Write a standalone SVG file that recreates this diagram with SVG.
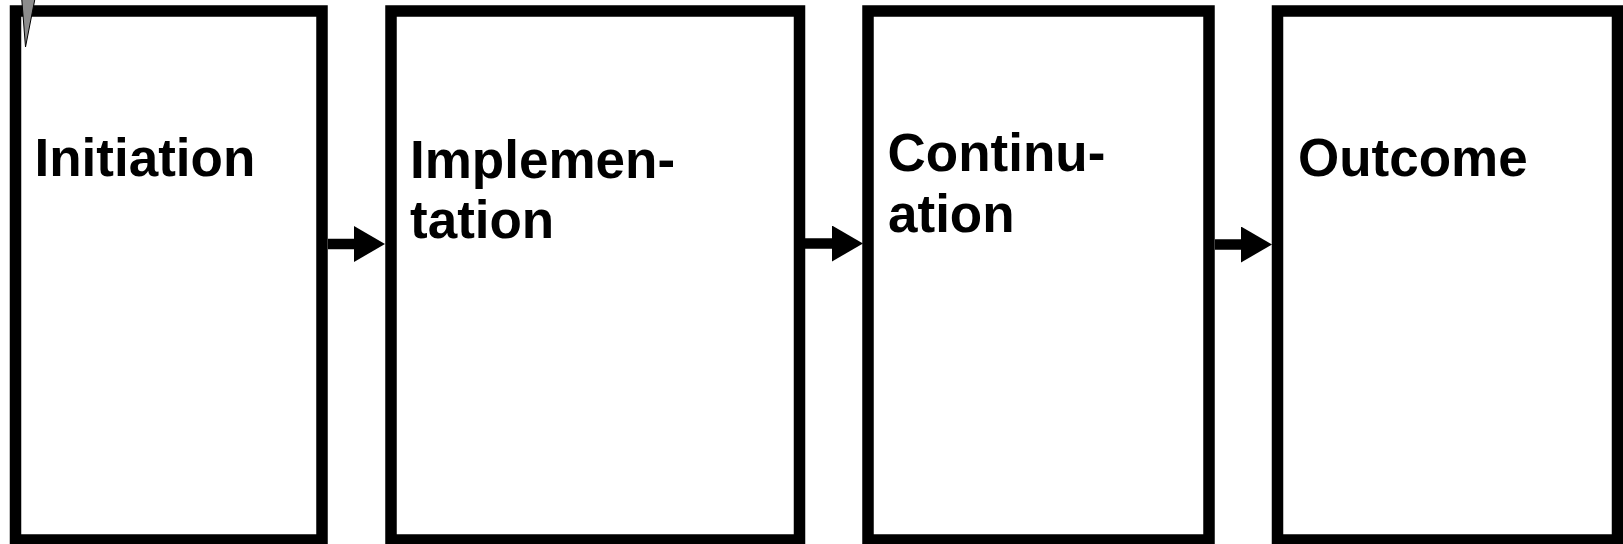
<svg xmlns="http://www.w3.org/2000/svg" width="1623" height="544" viewBox="0 0 1623 544">
  <style>
    .box { fill: #ffffff; stroke: #000000; stroke-width: 11.5; }
    .lbl { font-family: "Liberation Sans", Arial, sans-serif; font-weight: bold; font-size: 53px; fill: #000000; }
    .conn { stroke: #000000; stroke-width: 10.5; fill: none; marker-end: url(#head); }
  </style>
  <defs>
    <marker id="head" markerUnits="userSpaceOnUse" viewBox="0 0 31 36" refX="2" refY="18" markerWidth="31" markerHeight="36" orient="auto">
      <path d="M0,0 L31,18 L0,36 Z" fill="#000000"/>
    </marker>
  </defs>
  <rect width="1623" height="544" fill="#ffffff"/>
  <g id="node-initiation">
    <rect class="box" x="15.5" y="11" width="306.5" height="529"/>
    <text class="lbl" x="34.5" y="176">Initiation</text>
  </g>
  <g id="node-implementation">
    <rect class="box" x="391" y="11" width="408.5" height="529"/>
    <text class="lbl" x="410" y="178">Implemen-<tspan x="410" y="238">tation</tspan></text>
  </g>
  <g id="node-continuation">
    <rect class="box" x="868" y="11" width="341" height="529"/>
    <text class="lbl" x="887.5" y="171">Continu-<tspan x="888" y="232">ation</tspan></text>
  </g>
  <g id="node-outcome">
    <rect class="box" x="1277.5" y="11" width="340" height="529"/>
    <text class="lbl" x="1298" y="176">Outcome</text>
  </g>
  <g id="connectors">
    <line class="conn" x1="328" y1="244" x2="356" y2="244"/>
    <line class="conn" x1="805" y1="243.5" x2="834" y2="243.5"/>
    <line class="conn" x1="1215" y1="244.5" x2="1243" y2="244.5"/>
  </g>
  <g id="pointer">
    <polygon points="21.5,-4 35.5,-4 25.5,47" fill="#8c8c8c" stroke="#000000" stroke-width="1"/>
  </g>
</svg>
